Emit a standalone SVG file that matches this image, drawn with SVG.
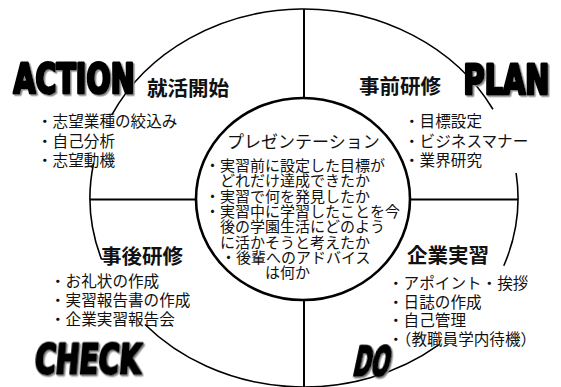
<svg xmlns="http://www.w3.org/2000/svg" width="561" height="387" viewBox="0 0 561 387">
<defs>
  <filter id="shadow" x="-10%" y="-10%" width="130%" height="130%">
    <feDropShadow dx="1.5" dy="1.5" stdDeviation="0.4" flood-color="#8a8a8a" flood-opacity="1"/>
  </filter>
</defs>
<style>
.ln{fill:none;stroke:#000;stroke-width:2}
.oa{fill:none;stroke:#000;stroke-width:1.6}
.ic{fill:#fff;stroke:#000;stroke-width:2.6}
.jp{font-family:"Noto Sans CJK JP","Noto Sans CJK SC",sans-serif;fill:#111}
.it{font-size:15.6px}
.in{font-size:15px}
.pt{font-size:17px}
.tt{font-size:20.5px;font-weight:bold}
.hd{font-family:"Liberation Sans Narrow","DejaVu Sans Condensed","Liberation Sans",sans-serif;font-weight:bold;font-size:40px;fill:#000;stroke:#000;stroke-width:3;stroke-linejoin:round;filter:url(#shadow)}
</style>
<rect width="561" height="387" fill="#fff"/>
<g id="connectors">
  <path class="oa" d="M111.66,115.15 A214,189 0 0 1 492.95,109.27"/>
  <path class="oa" d="M516.12,173 A214,189 0 0 1 503.79,265.73"/>
  <path class="oa" d="M438.67,344.88 A214,189 0 0 1 144.97,324.47"/>
  <path class="oa" d="M101.66,259.53 A214,189 0 0 1 93.72,162.91"/>
  <line class="ln" x1="304" y1="9" x2="304" y2="98"/>
  <line class="ln" x1="304" y1="300" x2="304" y2="387"/>
  <line class="ln" x1="90" y1="199.5" x2="196" y2="199.5"/>
  <line class="ln" x1="410" y1="199.5" x2="518" y2="199.5"/>
</g>
<g id="action">
  <text class="hd" x="13.5" y="92.5" textLength="121" lengthAdjust="spacingAndGlyphs">ACTION</text>
  <text class="jp tt" x="147" y="95.5">就活開始</text>
  <text class="jp it" x="37" y="127">・志望業種の絞込み</text>
  <text class="jp it" x="37" y="146.5">・自己分析</text>
  <text class="jp it" x="37" y="166">・志望動機</text>
</g>
<g id="plan">
  <text class="hd" x="463.5" y="93.5" textLength="86" lengthAdjust="spacingAndGlyphs">PLAN</text>
  <text class="jp tt" x="359" y="93.5">事前研修</text>
  <text class="jp it" x="404" y="127">・目標設定</text>
  <text class="jp it" x="404" y="146.5">・ビジネスマナー</text>
  <text class="jp it" x="404" y="166">・業界研究</text>
</g>
<g id="check">
  <g transform="translate(34,373.5) skewX(-5)">
    <text class="hd" x="0" y="0" textLength="106" lengthAdjust="spacingAndGlyphs">CHECK</text>
  </g>
  <text class="jp tt" x="101" y="263.5">事後研修</text>
  <text class="jp it" x="50" y="287">・お礼状の作成</text>
  <text class="jp it" x="50" y="306">・実習報告書の作成</text>
  <text class="jp it" x="50" y="325">・企業実習報告会</text>
</g>
<g id="do">
  <g transform="translate(352,375.5) skewX(-12)">
    <text class="hd" x="0" y="0" textLength="36" lengthAdjust="spacingAndGlyphs">DO</text>
  </g>
  <text class="jp tt" x="407" y="262.5">企業実習</text>
  <text class="jp it" x="388" y="289">・アポイント・挨拶</text>
  <text class="jp it" x="388" y="307.5">・日誌の作成</text>
  <text class="jp it" x="388" y="326">・自己管理</text>
  <text class="jp it" x="388" y="344.5">・（教職員学内待機）</text>
</g>
<g id="presentation">
  <ellipse class="ic" cx="303" cy="199" rx="107" ry="101"/>
  <text class="jp pt" x="227" y="148">プレゼンテーション</text>
  <text class="jp in" x="205" y="171">・実習前に設定した目標が</text>
  <text class="jp in" x="220" y="186.3">どれだけ達成できたか</text>
  <text class="jp in" x="205" y="201.6">・実習で何を発見したか</text>
  <text class="jp in" x="205" y="216.9">・実習中に学習したことを今</text>
  <text class="jp in" x="220" y="232.2">後の学園生活にどのよう</text>
  <text class="jp in" x="220" y="247.5">に活かそうと考えたか</text>
  <text class="jp in" x="221" y="262.8">・後輩へのアドバイス</text>
  <text class="jp in" x="265" y="278.1">は何か</text>
</g>
</svg>
